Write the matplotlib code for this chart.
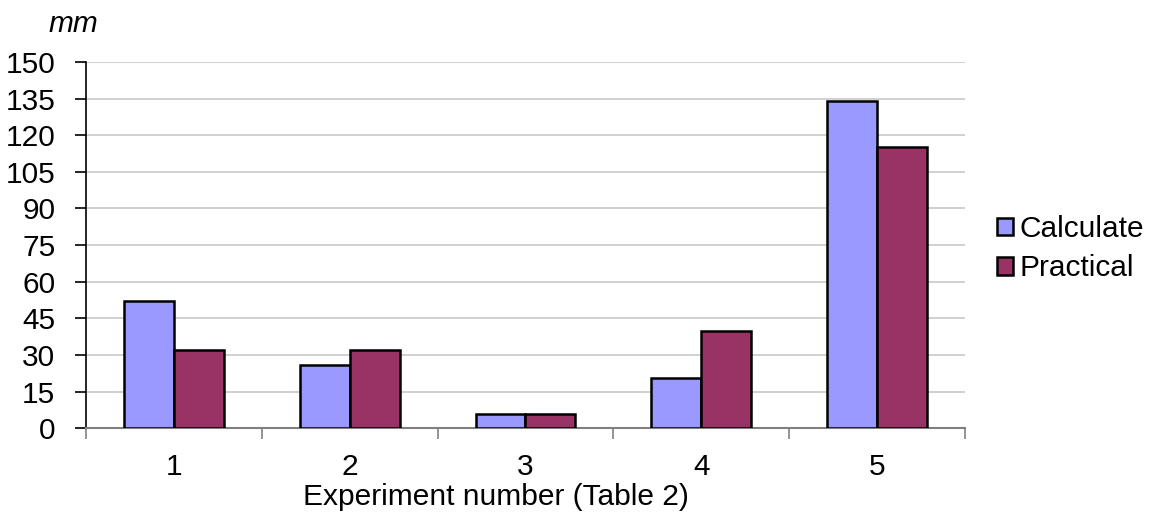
import numpy as np
import matplotlib.pyplot as plt

plt.rcParams['font.family'] = ['Liberation Sans', 'DejaVu Sans']

experiments = ['1', '2', '3', '4', '5']
calculate = [52, 26, 6, 20.5, 134]
practical = [32, 32, 6, 40, 115]

fs = 21.5
fig = plt.figure(figsize=(11.5, 5.12), dpi=100)
ax = fig.add_axes([0.0748, 0.1635, 0.7642, 0.7155])

x = np.arange(1, len(experiments) + 1)
w = 0.284
ax.bar(x - w / 2, calculate, w, color='#9999FF', edgecolor='black', linewidth=1.8,
       label='Calculate', zorder=3)
ax.bar(x + w / 2, practical, w, color='#993366', edgecolor='black', linewidth=1.8,
       label='Practical', zorder=3)

ax.set_xlim(0.5, 5.5)
ax.set_ylim(0, 150)
ax.set_yticks(np.arange(0, 151, 15))
ax.yaxis.grid(True, color='#c8c8c8', linewidth=1.2, zorder=0)

# category boundaries carry the ticks, labels sit in the middle
ax.set_xticks(np.arange(0.5, 5.6, 1))
ax.set_xticklabels([])
ax.set_xticks(x, minor=True)
ax.set_xticklabels(experiments, minor=True)
ax.tick_params(axis='x', which='major', length=8, color='#808080', width=1.2)
ax.tick_params(axis='x', which='minor', length=0, pad=18, labelsize=fs)
ax.tick_params(axis='y', length=8, width=1.2, pad=14, labelsize=fs)

for s in ['top', 'right']:
    ax.spines[s].set_visible(False)
ax.spines['left'].set_color('black')
ax.spines['left'].set_linewidth(1.2)
ax.spines['bottom'].set_color('#808080')
ax.spines['bottom'].set_linewidth(1.5)

ax.set_xlabel('Experiment number (Table 2)', fontsize=fs, labelpad=1, x=0.467)
ax.text(-0.014, 1.065, 'mm', transform=ax.transAxes, fontsize=fs, style='italic',
        ha='center', va='bottom')

ax.legend(loc='center left', bbox_to_anchor=(1.006, 0.49), frameon=False, fontsize=fs,
          handlelength=0.52, handleheight=0.52, handletextpad=0.22, labelspacing=0.38)

fig.savefig('out.png', dpi=100)
